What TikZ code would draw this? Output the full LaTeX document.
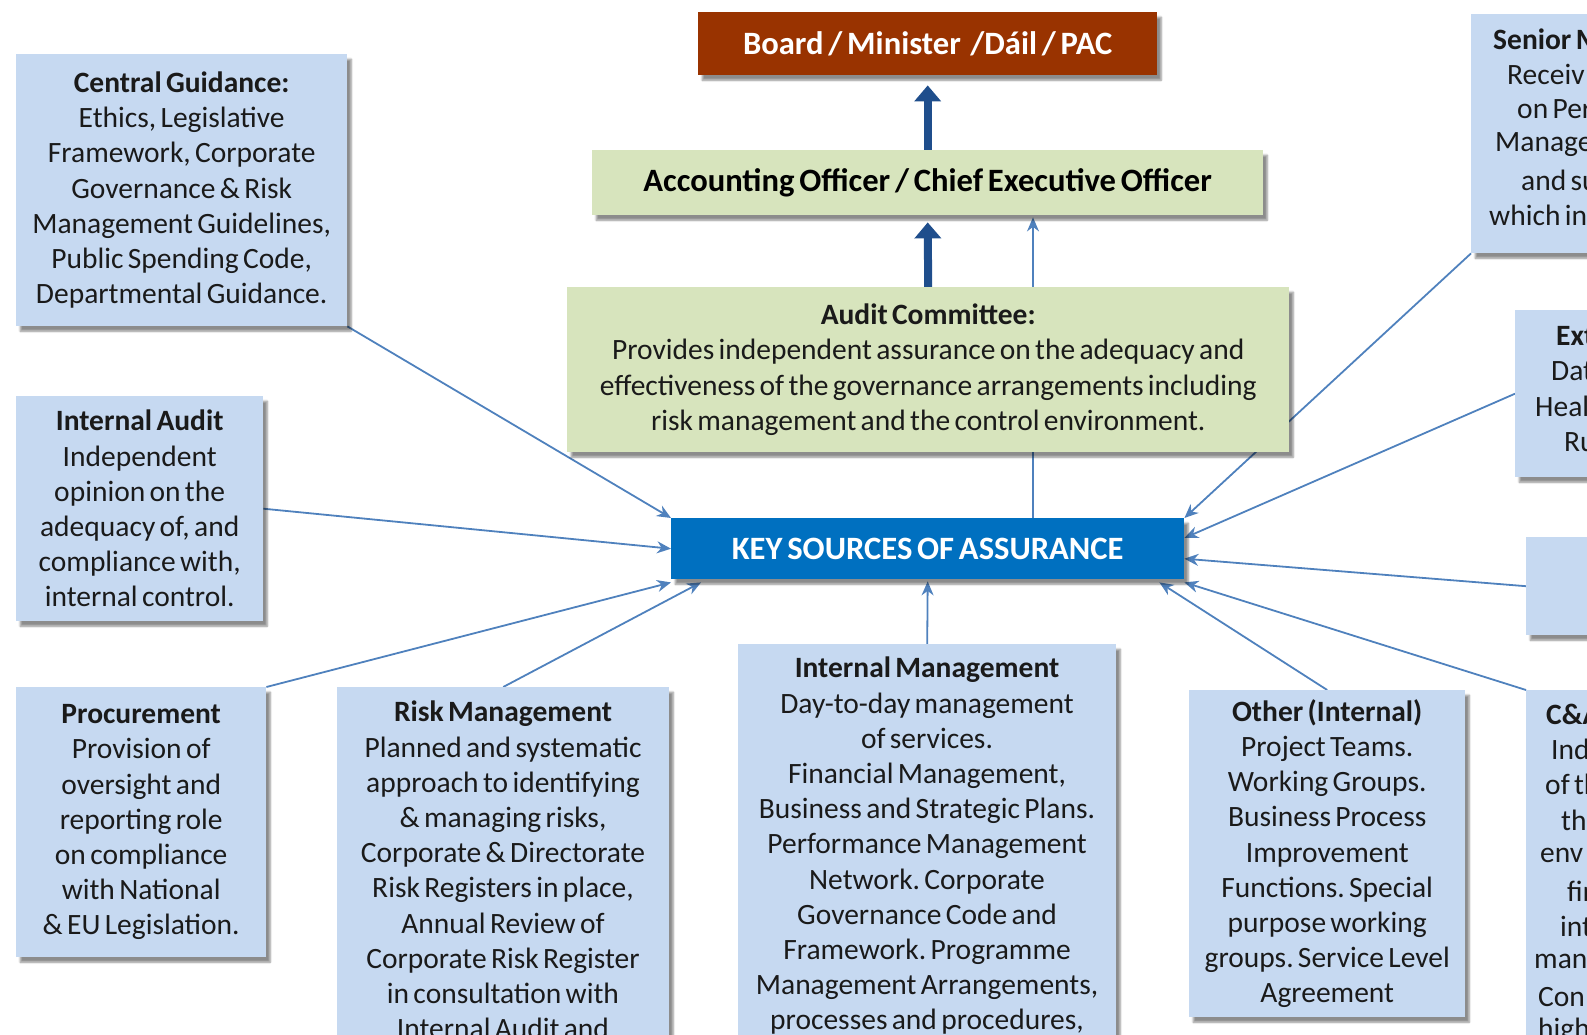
\documentclass[tikz,border=0pt]{standalone}
\usepackage{fontspec}
\setmainfont{Carlito}[WordSpace=0.65]
\usetikzlibrary{arrows.meta,shadows.blur}
\definecolor{boxblue}{HTML}{C6D9F1}
\definecolor{boxgreen}{HTML}{D7E4BD}
\definecolor{boardred}{HTML}{993300}
\definecolor{keyblue}{HTML}{0070C0}
\definecolor{linkblue}{HTML}{4F81BD}
\definecolor{darkarrow}{HTML}{1F4E8C}
\definecolor{inktext}{HTML}{1A1A1A}
\pgfdeclarelayer{bg}\pgfsetlayers{bg,main}
\frenchspacing
\begin{document}
\begin{tikzpicture}[x=1pt,y=-1pt,
  shad/.style={blur shadow={shadow xshift=4pt, shadow yshift=-5pt, shadow blur steps=6, shadow opacity=45}},
  bodyfont/.style={font=\fontsize{29.5}{35.2}\selectfont},
  headfont/.style={font=\bfseries\fontsize{32.6}{36}\selectfont},
  panel/.style={fill=boxblue, anchor=north west, inner sep=0pt, shad, align=center, text=inktext, bodyfont},
  greenbox/.style={fill=boxgreen, anchor=north west, inner sep=0pt, shad, align=center, text=inktext, bodyfont},
  txt/.style={align=center, inner sep=0pt, anchor=north, text=inktext, bodyfont},
  frag/.style={inner sep=0pt, anchor=west, text=inktext, bodyfont},
  link/.style={draw=linkblue, line width=1.8pt, -{Stealth[length=14pt,width=12pt]}},
  bigarrow/.style={draw=darkarrow, line width=8pt, -{Triangle[length=16pt,width=26pt]}},
]
\useasboundingbox (0,0) rectangle (1587,1035);
\clip (0,0) rectangle (1587,1035);

% top chain
\node[fill=boardred, anchor=north west, inner sep=0pt, shad, minimum width=459pt, minimum height=63pt,
      text=white, headfont] (board) at (698,12) {Board / Minister~~/Dáil / PAC};
\node[greenbox, minimum width=671pt, minimum height=65pt, headfont, text=black]
      (ao) at (592,150) {Accounting Officer / Chief Executive Officer};
\node[greenbox, minimum width=722pt, minimum height=165pt] (ac) at (567,287)
  {\textbf{Audit Committee:}\\Provides independent assurance on the adequacy and\\effectiveness of the governance arrangements including\\risk management and the control environment.};
\node[fill=keyblue, anchor=north west, inner sep=0pt, shad, minimum width=513pt, minimum height=61pt,
      text=white, headfont] (key) at (671,518) {KEY SOURCES OF ASSURANCE};

% left panels
\node[panel, minimum width=331pt, minimum height=272pt] (cg) at (16,54)
  {\textbf{Central Guidance:}\\Ethics, Legislative\\Framework, Corporate\\Governance \& Risk\\Management Guidelines,\\Public Spending Code,\\Departmental Guidance.};
\node[panel, minimum width=247pt, minimum height=225pt] (ia) at (16,396)
  {\textbf{Internal Audit}\\Independent\\opinion on the\\adequacy of, and\\compliance with,\\internal control.};
\node[panel, minimum width=250pt, minimum height=270pt] (pr) at (16,687)
  {\textbf{Procurement}\\Provision of\\oversight and\\reporting role\\on compliance\\with National\\\& EU Legislation.};

% bottom panels
\node[panel, minimum width=332pt, minimum height=520pt] (rm) at (337,687) {};
\node[txt] (rmt) at (503,701)
  {\textbf{Risk Management}\\Planned and systematic\\approach to identifying\\\& managing risks,\\Corporate \& Directorate\\Risk Registers in place,\\Annual Review of\\Corporate Risk Register\\in consultation with\\Internal Audit and};
\node[panel, minimum width=378pt, minimum height=560pt] (im) at (738,644) {};
\node[txt] (imt) at (927,657)
  {\textbf{Internal Management}\\Day-to-day management\\of services.\\Financial Management,\\Business and Strategic Plans.\\Performance Management\\Network. Corporate\\Governance Code and\\Framework. Programme\\Management Arrangements,\\processes and procedures,};
\node[panel, minimum width=276pt, minimum height=327pt] (ot) at (1189,690)
  {\textbf{Other (Internal)}\\Project Teams.\\Working Groups.\\Business Process\\Improvement\\Functions. Special\\purpose working\\groups. Service Level\\Agreement};

% right panels (cut by the edge)
\node[panel, minimum width=260pt, minimum height=239pt] (sm) at (1471,14) {};
\node[frag] (sm1) at (1493,39) {\textbf{Senior M}};
\node[frag] (sm2) at (1507,74) {Receiv};
\node[frag] (sm3) at (1517,109) {on Per};
\node[frag] (sm4) at (1495,145) {Manage};
\node[frag] (sm5) at (1521,180) {and su};
\node[frag] (sm6) at (1489,215) {which int};

\node[panel, minimum width=200pt, minimum height=167pt] (ex) at (1515,310) {};
\node[frag] (ex1) at (1556,336) {\textbf{Ext}};
\node[frag] (ex2) at (1551,371) {Dat};
\node[frag] (ex3) at (1535,406) {Heal};
\node[frag] (ex4) at (1564,442) {Ru};

\node[panel, minimum width=200pt, minimum height=98pt] (bl) at (1526,537) {};

\node[panel, minimum width=200pt, minimum height=520pt] (ca) at (1526,690) {};
\node[frag] (ca1) at (1546,714) {\textbf{C\&A}};
\node[frag] (ca2) at (1551,749) {Ind};
\node[frag] (ca3) at (1545,784) {of th};
\node[frag] (ca4) at (1561,820) {th};
\node[frag] (ca5) at (1540,855) {env};
\node[frag] (ca6) at (1567,891) {fir};
\node[frag] (ca7) at (1560,926) {int};
\node[frag] (ca8) at (1534,961) {man};
\node[frag] (ca9) at (1538,997) {Con};
\node[frag] (ca10) at (1538,1031) {high};

% connectors
\begin{pgfonlayer}{bg}
\draw[bigarrow] (ao.north) -- ([yshift=-10pt]board.south);
\draw[bigarrow] (ac.north) -- ([yshift=-7pt]ao.south);
\draw[link] (key.north -| 1033,0) -- ([yshift=-2pt]ao.south -| 1033,0);
\draw[link] (cg.south east) -- (key.north west);
\draw[link] (ia.east) -- (key.west);
\draw[link] (pr.north east) -- ([yshift=-3pt]key.south west);
\draw[link] (rm.north) -- ([xshift=30pt,yshift=-3pt]key.south west);
\draw[link] (im.north) -- ([yshift=-2pt]key.south);
\draw[link] (ot.north) -- ([xshift=-25pt,yshift=-3pt]key.south east);
\draw[link] (ca.north west) -- ([yshift=-3pt]key.south east);
\draw[link] (bl.west) -- ([yshift=-10pt]key.east);
\draw[link] (ex.west) -- ([yshift=-20pt]key.north east);
\draw[link] (sm.south west) -- (key.north east);
\end{pgfonlayer}
\end{tikzpicture}
\end{document}
